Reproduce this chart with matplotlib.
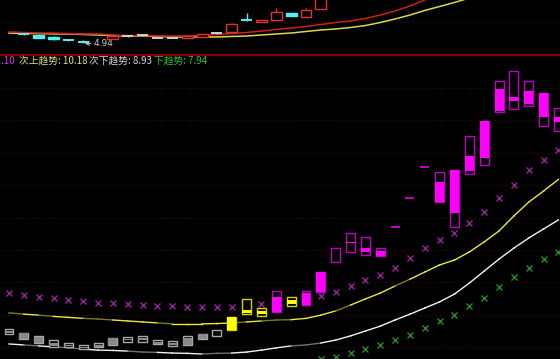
import numpy as np
import matplotlib
matplotlib.use("Agg")
import matplotlib.pyplot as plt

nan = np.nan

# ---- 主图 K 线 (top panel) ----
k_open  = [nan, 5.87, 5.75, 5.56, 5.29, 5.10, nan, 5.37, 5.65, 5.75, 5.46, 5.46, 5.46, 5.56, 5.94, 6.04, 7.20, 7.00, 7.19, 7.87, 7.48, 8.25]
k_close = [nan, 5.83, 5.46, 5.32, 5.25, 5.06, nan, 5.65, 5.65, 5.75, 5.46, 5.46, 5.65, 5.85, 5.94, 6.81, 7.18, 7.19, 7.96, 7.58, 8.11, 9.40]
k_high  = [nan, 5.92, 5.80, 5.61, 5.41, 5.27, nan, 5.70, 5.72, 5.82, 5.50, 5.50, 5.68, 5.88, 6.04, 6.90, 7.87, 7.22, 8.30, 7.90, 8.30, 9.50]
k_low   = [nan, 5.78, 5.42, 5.27, 5.13, 4.94, nan, 5.35, 5.58, 5.70, 5.42, 5.42, 5.44, 5.54, 5.85, 6.02, 7.10, 6.98, 7.17, 7.55, 7.46, 8.22]
ma_fast = [6.04, 5.99, 5.94, 5.94, 5.89, 5.85, 5.85, 5.75, 5.70, 5.70, 5.65, 5.65, 5.65, 5.70, 5.80, 5.89,
           5.99, 6.13, 6.28, 6.42, 6.57, 6.76, 6.95, 7.10, 7.34, 7.67, 8.06, 8.54, 9.12, 9.70]
ma_slow = [5.94, 5.89, 5.89, 5.85, 5.85, 5.80, 5.75, 5.70, 5.65, 5.65, 5.61, 5.56, 5.56, 5.56, 5.56, 5.61,
           5.65, 5.75, 5.85, 5.94, 6.09, 6.23, 6.33, 6.47, 6.66, 6.95, 7.29, 7.67, 8.11, 8.49, 8.88, 9.30]
low_mark = 4.94
low_idx = 5

# ---- 副图 (bottom panel) ----
box_hi = [5.56, 5.44, 5.35, 5.22, 5.13, 5.07, 5.13, 5.28, 5.31, 5.35, 5.22, 5.19, 5.35, 5.41, 5.53, 5.93, 6.49, 6.21, 6.73,
          6.55, 6.73, 7.32, 8.06, 8.52, 8.40, 8.06, 8.71, 9.60, 10.56, 10.41, 10.47, 11.52, 11.98, 13.22, 13.52, 13.22, 12.85, 12.38]
box_lo = [5.41, 5.25, 5.13, 5.01, 5.01, 4.94, 5.01, 5.07, 5.16, 5.16, 5.10, 5.04, 5.07, 5.25, 5.35, 5.53, 6.02, 5.96, 6.09,
          6.27, 6.30, 6.70, 7.63, 7.94, 7.85, 7.81, 8.71, 9.60, 10.56, 9.48, 8.71, 10.35, 10.62, 12.26, 12.35, 12.44, 11.83, 11.67]
fill_hi = [5.50, 5.44, 5.31, 5.13, 5.07, 5.01, 5.07, 5.28, 5.25, 5.28, 5.16, 5.13, 5.28, 5.41, nan, 5.93, 6.15, 6.12, 6.55,
           6.46, 6.67, 7.32, nan, 8.26, 8.06, 7.97, nan, nan, nan, 10.10, 10.47, 10.90, 11.98, 12.97, 12.72, 12.91, 12.85, 12.10]
fill_lo = [5.44, 5.25, 5.13, 5.04, 5.04, 4.97, 5.01, 5.07, 5.22, 5.22, 5.10, 5.07, 5.07, 5.25, nan, 5.53, 6.06, 6.02, 6.09,
           6.33, 6.30, 6.70, nan, 8.23, 7.94, 7.81, nan, nan, nan, 9.48, 9.14, 10.44, 10.84, 12.29, 12.60, 12.51, 12.10, 11.95]
bar_kind = list("ggggggggggggggg") + list("yyymym") + list("m" * 17)

up_trend = [6.67, 6.61, 6.55, 6.52, 6.46, 6.43, 6.36, 6.36, 6.33, 6.30, 6.27, 6.27, 6.24, 6.24, 6.24, 6.24, nan, 6.33, nan,
            nan, nan, 6.58, 6.70, 6.89, 7.07, 7.23, 7.44, 7.75, 8.06, 8.31, 8.52, 8.83, 9.17, 9.60, 10.01, 10.47, 10.78, 11.10]
down_trend = [nan] * 21 + [4.64, 4.70, 4.82, 4.94, 5.07, 5.22, 5.38, 5.59, 5.81, 5.99, 6.27, 6.52, 6.86, 7.17, 7.44, 7.72, 7.94]
sub_up = [6.06, 6.02, 5.99, 5.95, 5.92, 5.89, 5.87, 5.84, 5.81, 5.78, 5.75, 5.72, 5.72, 5.72, 5.73, 5.75, 5.78, 5.81, 5.84,
          5.85, 5.89, 5.99, 6.12, 6.30, 6.49, 6.67, 6.89, 7.10, 7.32, 7.54, 7.69, 7.94, 8.25, 8.59, 9.05, 9.48, 9.82, 10.18]
sub_down = [5.10, 5.07, 5.04, 5.01, 4.98, 4.94, 4.91, 4.90, 4.88, 4.85, 4.84, 4.82, 4.81, 4.79, 4.81, 4.82, 4.85, 4.91, 4.98,
            5.04, 5.07, 5.13, 5.22, 5.35, 5.50, 5.65, 5.84, 6.02, 6.21, 6.40, 6.64, 6.98, 7.35, 7.72, 8.06, 8.37, 8.65, 8.93]

legend_vals = {"上趋势": 11.10, "次上趋势": 10.18, "次下趋势": 8.93, "下趋势": 7.94}

# 颜色
BAR_EDGE = {"g": "#a8a8a8", "y": "#d4d400", "m": "#c000c0"}
BAR_FACE = {"g": "#8a8a8a", "y": "#ffff00", "m": "#ff00ff"}
GRID = "#640000"
DIM_UP = {0, 2, 5, 6, 10, 15, 17, 18, 22, 26}     # 次上趋势 暗色段
DIM_DN = {1, 3, 4, 8, 9, 13, 14, 19, 20}         # 次下趋势 暗色段

W, H = 560, 359
fig = plt.figure(figsize=(W / 100, H / 100), dpi=100, facecolor="black")
ax_top = fig.add_axes([0, (H - 55) / H, 1, 55 / H], facecolor="black")
ax = fig.add_axes([0, 0, 1, (H - 57) / H], facecolor="black")

x_lim = (-9 / 14.85, (W - 9) / 14.85)
for a in (ax_top, ax):
    a.set_xlim(*x_lim)
    a.set_xticks([])
    a.set_yticks([])
    for s in a.spines.values():
        s.set_visible(False)
ax_top.spines["bottom"].set_visible(True)
ax_top.spines["bottom"].set_color("#820000")
ax_top.spines["bottom"].set_linewidth(1.6)

# ---------- top panel ----------
ax_top.set_ylim(3.827, 9.115)
ax_top.axhline(7.0, color=GRID, ls=(0, (1, 3)), lw=0.7)
ax_top.plot(range(len(ma_slow)), ma_slow, color="#d8d850", lw=1.1, zorder=2)
ax_top.plot(range(len(ma_fast)), ma_fast, color="#cc2020", lw=1.1, zorder=2)
for i, (o, c, h, l) in enumerate(zip(k_open, k_close, k_high, k_low)):
    if np.isnan(o):
        continue
    if c > o:
        col, face = "#e03434", "black"
    elif c < o:
        col, face = "#54f0f0", "#54f0f0"
    else:
        col, face = "#d0d0d0", "#d0d0d0"
    ax_top.vlines(i, l, h, color=col, lw=1, zorder=3)
    bot, top = min(o, c), max(o, c)
    if top - bot < 0.05:
        ax_top.hlines((o + c) / 2, i - 0.37, i + 0.37, color=col, lw=1.4, zorder=4)
    else:
        ax_top.bar(i, top - bot, bottom=bot, width=0.74, facecolor=face, edgecolor=col, lw=1, zorder=4)
ax_top.annotate(f"{low_mark:.2f}", xy=(low_idx + 0.1, low_mark), xytext=(low_idx + 0.7, low_mark),
                color="#c8c8c8", fontsize=6.5, va="center", ha="left",
                arrowprops=dict(arrowstyle="->", color="#c8c8c8", lw=0.7, shrinkA=0, shrinkB=0))

# ---------- bottom panel ----------
ax.set_ylim(4.636, 13.957)
for g in range(5, 14):
    ax.axhline(g, color=GRID, ls=(0, (1, 3)), lw=0.7, zorder=0)

idx = np.arange(len(sub_up))
for i in range(len(idx) - 1):
    ax.plot(idx[i:i + 2], sub_up[i:i + 2], color="#7a7a28" if i in DIM_UP else "#e8e840", lw=1.0, zorder=1)
    ax.plot(idx[i:i + 2], sub_down[i:i + 2], color="#707070" if i in DIM_DN else "#f0f0f0", lw=1.0, zorder=1)

ax.plot(idx, up_trend, ls="none", marker="x", ms=4, mew=0.9, color="#a424a8", zorder=2)
ax.plot(idx, down_trend, ls="none", marker="x", ms=4, mew=0.9, color="#2a9a2a", zorder=2)

for i in idx:
    k = bar_kind[i]
    hi, lo = box_hi[i], box_lo[i]
    if hi - lo < 0.01:
        ax.hlines(hi, i - 0.3, i + 0.3, color=BAR_EDGE[k], lw=1.5, zorder=3)
        continue
    ax.bar(i, hi - lo, bottom=lo, width=0.6, facecolor="black", edgecolor=BAR_EDGE[k], lw=1, zorder=3)
    if not np.isnan(fill_hi[i]):
        ax.bar(i, fill_hi[i] - fill_lo[i], bottom=fill_lo[i], width=0.6, facecolor=BAR_FACE[k],
               edgecolor="none", lw=0, zorder=4)

# ---------- legend text ----------
fam = ["Noto Sans CJK SC", "DejaVu Sans"]
ty = 1 - 61 / H
fig.text(15 / W, ty, f"{legend_vals['上趋势']:.2f}", color="#d040d0", fontsize=7, ha="right", va="center", family=fam)
fig.text(19 / W, ty, f"次上趋势: {legend_vals['次上趋势']:.2f}", color="#e0e080", fontsize=7, va="center", family=fam)
fig.text(89 / W, ty, f"次下趋势: {legend_vals['次下趋势']:.2f}", color="#d8d8d8", fontsize=7, va="center", family=fam)
fig.text(154 / W, ty, f"下趋势: {legend_vals['下趋势']:.2f}", color="#30c030", fontsize=7, va="center", family=fam)

fig.savefig("out.png", dpi=100, facecolor="black")
